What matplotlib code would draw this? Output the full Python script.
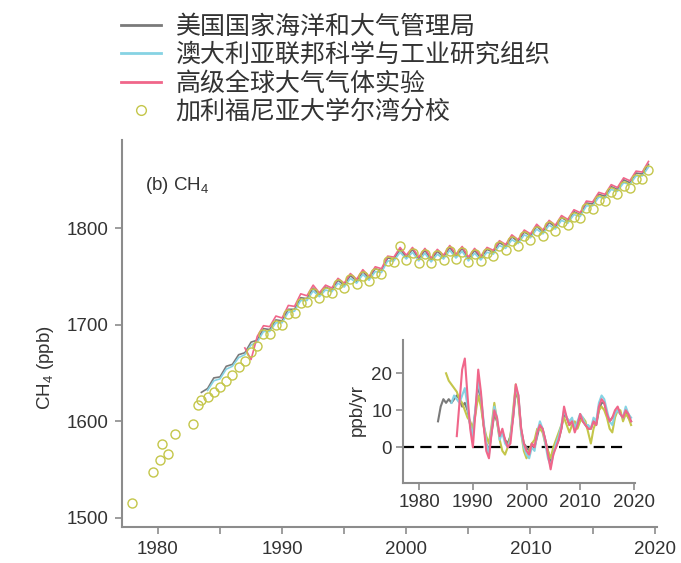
import matplotlib
matplotlib.use("Agg")
import matplotlib.pyplot as plt
from matplotlib.lines import Line2D
import numpy as np

plt.rcParams['font.family'] = ['Liberation Sans', 'DejaVu Sans']
plt.rcParams['mathtext.fontset'] = 'custom'
plt.rcParams['mathtext.rm'] = 'Liberation Sans'
plt.rcParams['mathtext.it'] = 'Liberation Sans:italic'

labels = ["美国国家海洋和大气管理局", "澳大利亚联邦科学与工业研究组织",
          "高级全球大气气体实验", "加利福尼亚大学尔湾分校"]

# main panel: half-yearly CH4 (ppb)
noaa_start = 1983.5
noaa = [1630, 1634, 1645, 1646, 1657, 1659, 1669, 1671, 1682, 1684, 1696, 1695, 1705, 1704, 1716,
        1716, 1728, 1727, 1738, 1731, 1739, 1736, 1746, 1741, 1751, 1745, 1755, 1748, 1758, 1756,
        1769, 1768, 1778, 1770, 1778, 1768, 1777, 1767, 1776, 1770, 1780, 1771, 1779, 1768, 1777,
        1769, 1778, 1775, 1785, 1781, 1791, 1786, 1796, 1792, 1802, 1796, 1806, 1801, 1811, 1807,
        1817, 1814, 1826, 1825, 1835, 1833, 1843, 1840, 1850, 1847, 1857, 1856, 1866]
csiro_start = 1984.0
csiro = [1632, 1642, 1644, 1654, 1657, 1666, 1669, 1679, 1682, 1693, 1693, 1702, 1702, 1713, 1714,
         1725, 1725, 1735, 1729, 1736, 1734, 1743, 1739, 1748, 1743, 1752, 1746, 1755, 1754, 1766,
         1766, 1775, 1768, 1775, 1766, 1774, 1765, 1773, 1768, 1777, 1769, 1776, 1766, 1774, 1767,
         1775, 1773, 1782, 1779, 1788, 1784, 1793, 1790, 1799, 1794, 1803, 1799, 1808, 1805, 1814,
         1812, 1823, 1823, 1832, 1831, 1840, 1838, 1847, 1845, 1854, 1854, 1863]
agage_start = 1987.0
agage = [1676, 1664, 1688, 1699, 1698, 1709, 1707, 1720, 1719, 1732, 1730, 1741, 1733, 1741, 1738,
         1748, 1743, 1753, 1747, 1757, 1750, 1760, 1758, 1771, 1770, 1780, 1772, 1780, 1770, 1779,
         1769, 1778, 1772, 1782, 1773, 1781, 1770, 1779, 1771, 1780, 1777, 1787, 1783, 1793, 1788,
         1798, 1794, 1804, 1798, 1808, 1803, 1813, 1809, 1819, 1816, 1828, 1827, 1837, 1835, 1845,
         1842, 1852, 1849, 1859, 1858, 1869]
uci_early_years = [1977.9, 1979.6, 1980.2, 1980.3, 1980.8, 1981.4, 1982.8, 1983.2]
uci_early = [1515, 1548, 1560, 1577, 1566, 1587, 1597, 1617]
uci_start = 1983.5
uci = [1622, 1625, 1630, 1636, 1642, 1648, 1656, 1662, 1672, 1678, 1690, 1690, 1700, 1700, 1711,
       1712, 1722, 1724, 1733, 1728, 1734, 1733, 1742, 1738, 1747, 1742, 1750, 1745, 1754, 1753,
       1766, 1765, 1781, 1767, 1774, 1764, 1773, 1764, 1772, 1767, 1776, 1768, 1775, 1765, 1773,
       1766, 1774, 1771, 1781, 1777, 1787, 1782, 1792, 1788, 1797, 1792, 1802, 1797, 1806, 1803,
       1812, 1810, 1821, 1820, 1829, 1828, 1837, 1835, 1844, 1842, 1851, 1851, 1860]

# inset: growth rate (ppb/yr)
gr_noaa_start = 1983.5
gr_noaa = [7, 11, 13, 12, 13, 12, 13, 14, 13, 11, 12, 10, 6, 5, 10, 17, 13, 6, 1, -1, 4, 9, 7, 3, 4,
           2, 1, 3, 8, 15, 13, 5, 1, 0, -1, 1, 0, 3, 6, 5, 2, -1, -4, -1, 0, 2, 5, 9, 8, 6, 7, 5, 6,
           8, 7, 6, 5, 5, 7, 6, 10, 12, 12, 9, 7, 8, 9, 10, 9, 8, 10, 8, 7]
gr_csiro_start = 1986.0
gr_csiro = [12, 14, 13, 12, 14, 16, 11, 6, 3, 11, 18, 14, 7, 1, -2, 5, 11, 8, 2, 4, 1, 0, 2, 9, 16,
            14, 4, 0, -2, -3, 0, -1, 4, 7, 5, 1, -3, -5, -2, 1, 3, 6, 10, 8, 7, 8, 5, 7, 9, 8, 6, 6,
            5, 8, 7, 12, 14, 13, 10, 7, 6, 9, 10, 9, 8, 11, 9, 8]
gr_agage_start = 1987.0
gr_agage = [3, 12, 21, 24, 14, 5, 0, 10, 21, 15, 6, -1, -3, 4, 10, 8, 3, 5, 2, 0, 1, 8, 17, 14, 5,
            1, -1, -2, 1, 0, 4, 6, 5, 2, -2, -6, -2, 0, 2, 5, 11, 8, 6, 7, 4, 6, 9, 7, 6, 5, 5, 7,
            6, 11, 13, 12, 9, 7, 8, 10, 11, 9, 8, 10, 9, 7]
gr_uci_start = 1985.0
gr_uci = [20, 18, 17, 16, 15, 13, 12, 10, 8, 7, 5, 9, 14, 11, 6, 3, 1, 6, 12, 7, 2, -1, -2, 0, 3,
          10, 17, 12, 4, -1, -3, -1, 1, 2, 5, 5, 4, 1, -1, -3, 0, 2, 4, 6, 8, 6, 4, 6, 7, 5, 7, 8,
          7, 4, 1, 5, 7, 10, 11, 10, 8, 5, 4, 8, 10, 10, 7, 9, 8, 6]

c_noaa = "#7a7a7a"
c_csiro = "#86d3e3"
c_agage = "#f0668a"
c_uci = "#c4c64a"
spine_c = "#8c8c8c"
txt_c = "#333333"


def years(start, vals):
    return start + 0.5 * np.arange(len(vals))


fig = plt.figure(figsize=(6.81, 5.63), dpi=100)

ax = fig.add_axes([0.179, 0.064, 0.786, 0.687])
ax.plot(years(noaa_start, noaa), noaa, color=c_noaa, lw=1.2)
ax.plot(years(csiro_start, csiro), csiro, color=c_csiro, lw=1.2)
ax.plot(years(agage_start, agage), agage, color=c_agage, lw=1.2)
ax.plot(uci_early_years, uci_early, ls="none", marker="o", ms=6.5, mfc="none", mec=c_uci, mew=1)
ax.plot(years(uci_start, uci), uci, ls="none", marker="o", ms=6.5, mfc="none", mec=c_uci, mew=1)

ax.set_xlim(1977.1, 2020.2)
ax.set_ylim(1490.7, 1891)
ax.set_xticks([1980, 1990, 2000, 2010, 2020])
ax.set_xticks([1985, 1995, 2005, 2015], minor=True)
ax.set_yticks([1500, 1600, 1700, 1800])
for s in ["top", "right"]:
    ax.spines[s].set_visible(False)
for s in ["left", "bottom"]:
    ax.spines[s].set_color(spine_c)
    ax.spines[s].set_linewidth(1.5)
ax.tick_params(which="both", direction="out", length=5, width=1.2, color=spine_c,
               labelsize=13.5, labelcolor=txt_c, pad=5)
ax.patch.set_alpha(0)

fig.text(46 / 681, 1 - 368 / 563, "CH$_4$ (ppb)", rotation=90, ha="center", va="center",
         fontsize=13.5, color=txt_c)
fig.text(145 / 681, 1 - 185 / 563, "(b) CH$_4$", ha="left", va="center", fontsize=13.5, color=txt_c)

# inset
ax2 = fig.add_axes([0.592, 0.142, 0.341, 0.254])
ax2.hlines(0, 1977, 2019, colors="black", linestyles=(0, (5, 2.8)), lw=1.6)
ax2.plot(years(gr_noaa_start, gr_noaa), gr_noaa, color=c_noaa, lw=1.5)
ax2.plot(years(gr_uci_start, gr_uci), gr_uci, color=c_uci, lw=1.5)
ax2.plot(years(gr_csiro_start, gr_csiro), gr_csiro, color=c_csiro, lw=1.5)
ax2.plot(years(gr_agage_start, gr_agage), gr_agage, color=c_agage, lw=1.5)
ax2.set_xlim(1977, 2020.3)
ax2.set_ylim(-9.7, 29)
ax2.set_xticks([1980, 1990, 2000, 2010, 2020])
ax2.set_yticks([0, 10, 20])
for s in ["top", "right"]:
    ax2.spines[s].set_visible(False)
for s in ["left", "bottom"]:
    ax2.spines[s].set_color(spine_c)
    ax2.spines[s].set_linewidth(1.5)
ax2.tick_params(direction="out", length=5, width=1.2, color=spine_c,
                labelsize=13.5, labelcolor=txt_c, pad=3)
ax2.patch.set_alpha(0)
fig.text(357 / 681, 1 - 410 / 563, "ppb/yr", rotation=90, ha="center", va="center",
         fontsize=13.5, color=txt_c)

handles = [Line2D([], [], color=c_noaa, lw=2),
           Line2D([], [], color=c_csiro, lw=2),
           Line2D([], [], color=c_agage, lw=2),
           Line2D([], [], ls="none", marker="o", ms=7, mfc="none", mec=c_uci, mew=1)]
fig.legend(handles, labels, loc="upper left", bbox_to_anchor=(108 / 681, 1 - 1 / 563),
           frameon=False, borderpad=0, handlelength=1.6, handletextpad=0.6, labelspacing=0.1,
           prop={"family": ["Noto Sans CJK SC", "DejaVu Sans"], "size": 18}, labelcolor=txt_c)

fig.savefig("out.png", dpi=100)
